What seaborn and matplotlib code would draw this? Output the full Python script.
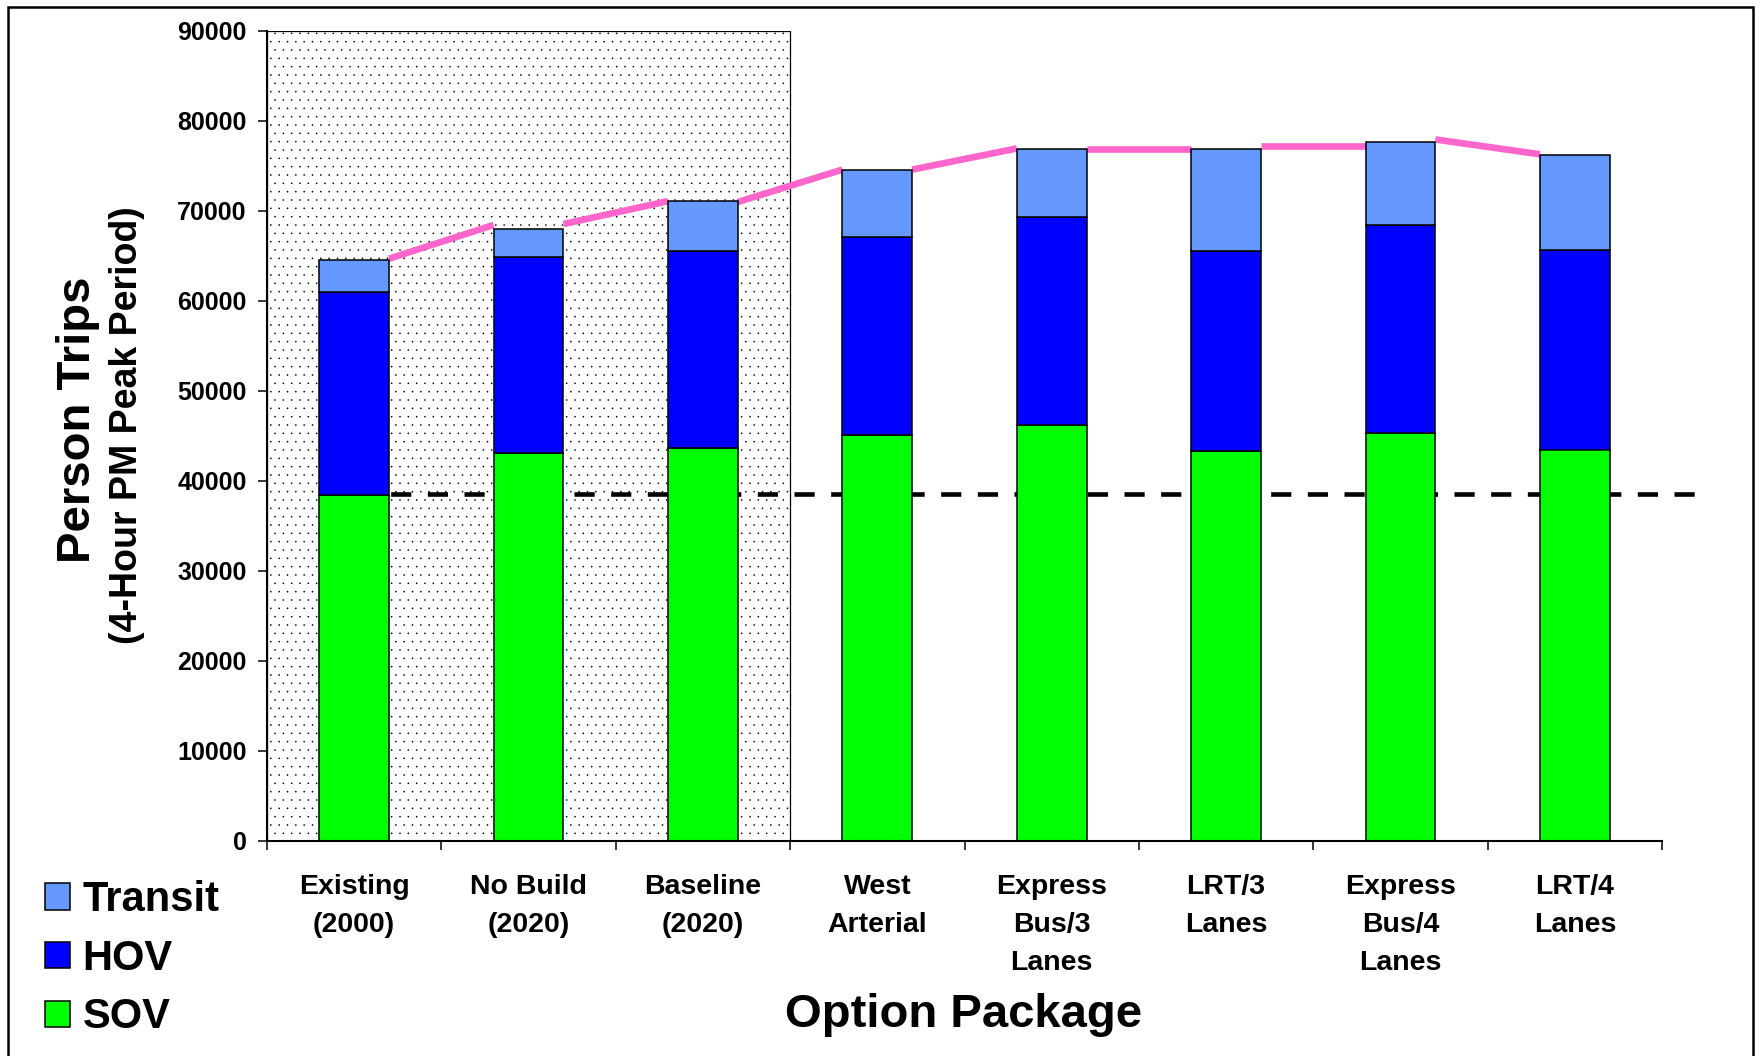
import numpy as np
import pandas as pd
import matplotlib
matplotlib.use("Agg")
import matplotlib.pyplot as plt
from matplotlib.patches import Rectangle, Patch
import seaborn as sns

# ---- data -------------------------------------------------------------
categories = ["Existing\n(2000)", "No Build\n(2020)", "Baseline\n(2020)",
              "West\nArterial", "Express\nBus/3\nLanes", "LRT/3\nLanes",
              "Express\nBus/4\nLanes", "LRT/4\nLanes"]
sov = [38400, 43100, 43700, 45100, 46200, 43300, 45300, 43500]
hov = [22600, 21800, 21800, 22000, 23100, 22200, 23100, 22200]
transit = [3600, 3100, 5600, 7500, 7600, 11400, 9300, 10500]

# total-demand trend, drawn in the gaps between packages (value leaving / arriving)
trend_start = [64700, 68550, 71000, 74600, 76900, 77250, 77950]
trend_end = [68450, 71100, 74600, 76950, 76900, 77250, 76300]

existing_sov_level = 38500          # reference line: existing SOV trips
y_ticks = list(range(0, 90001, 10000))
n_reference = 3                      # existing / no-build / baseline block

series_names = ["Transit", "HOV", "SOV"]
series_colors = {"Transit": "#6699FF", "HOV": "#0000FF", "SOV": "#00FF00"}
trend_color = "#FF66CC"

# ---- style ------------------------------------------------------------
sns.set_theme(style="ticks")
plt.rcParams["font.family"] = ["Liberation Sans", "DejaVu Sans"]
plt.rcParams["font.weight"] = "bold"
plt.rcParams["text.color"] = "black"
plt.rcParams["axes.labelcolor"] = "black"
plt.rcParams["xtick.color"] = "black"
plt.rcParams["ytick.color"] = "black"
plt.rcParams["hatch.linewidth"] = 0.0
plt.rcParams["lines.solid_capstyle"] = "butt"

W, H = 1761, 1056
fig = plt.figure(figsize=(W / 100, H / 100), dpi=100)
ax = fig.add_axes([267 / W, 1 - 841 / H, (1662 - 267) / W, (841 - 31) / H])

df = pd.DataFrame({"package": categories, "SOV": sov, "HOV": hov, "Transit": transit})
df["HOV_top"] = df["SOV"] + df["HOV"]
df["total"] = df["HOV_top"] + df["Transit"]

bar_w = 0.4
bar_kw = dict(width=bar_w, saturation=1, errorbar=None, edgecolor="black",
              linewidth=1.1, zorder=3, ax=ax)

# stacked bars: SOV at the bottom, HOV and Transit on top
sns.barplot(data=df, x="package", y="SOV", color=series_colors["SOV"], **bar_kw)
sns.barplot(data=df, x="package", y="HOV", bottom=df["SOV"].to_numpy(),
            color=series_colors["HOV"], **bar_kw)
sns.barplot(data=df, x="package", y="Transit", bottom=df["HOV_top"].to_numpy(),
            color=series_colors["Transit"], **bar_kw)

n = len(categories)
ax.set_xlim(-0.5, n - 0.5)
ax.set_ylim(0, 90000)

# dotted block behind the existing / no-build / baseline packages
ax.add_patch(Rectangle((-0.5, 0), n_reference, 90000, facecolor="white",
                       edgecolor="black", hatch="..", linewidth=0.9, zorder=0.5))

# existing SOV reference line, running a little past the axis end
ax.plot([0, n - 0.5 + 0.22], [existing_sov_level] * 2, color="black",
        linewidth=3.3, dashes=(4.4, 3.6), zorder=1.5, clip_on=False)

# trend of total demand in the gaps between bars
for i, (a, b) in enumerate(zip(trend_start, trend_end)):
    ax.plot([i + bar_w / 2, i + 1 - bar_w / 2], [a, b], color=trend_color,
            linewidth=4.8, zorder=1.6)

# ---- axes ---------------------------------------------------------------
ax.set_xlabel("")
ax.set_ylabel("")
ax.set_xticks(np.arange(-0.5, n, 1.0))
ax.set_xticklabels([])
ax.set_xticks(np.arange(n), labels=categories, minor=True)
ax.tick_params(axis="x", which="major", bottom=True, direction="out",
               length=6.5, width=1.1, color="black")
ax.tick_params(axis="x", which="minor", bottom=True, length=0, pad=24,
               labelsize=20.5, labelcolor="black")
for t in ax.get_xticklabels(minor=True):
    t.set_linespacing(1.6)
    t.set_fontweight("bold")

ax.set_yticks(y_ticks)
ax.set_yticklabels([str(v) for v in y_ticks])
ax.tick_params(axis="y", left=True, direction="out", length=6.5, width=1.1,
               color="black", pad=8, labelsize=18, labelcolor="black")
for t in ax.get_yticklabels():
    t.set_fontweight("bold")

for side in ("top", "right"):
    ax.spines[side].set_visible(False)
for side in ("left", "bottom"):
    ax.spines[side].set_color("black")
    ax.spines[side].set_linewidth(1.5)
    ax.spines[side].set_zorder(5)
ax.set_facecolor("white")

# ---- titles -------------------------------------------------------------
fig.text(90 / W, 1 - 420 / H, "Person Trips", rotation=90, rotation_mode="anchor",
         ha="center", va="baseline", fontsize=34, fontweight="bold", color="black")
fig.text(137 / W, 1 - 425 / H, "(4-Hour PM Peak Period)", rotation=90,
         rotation_mode="anchor", ha="center", va="baseline", fontsize=27,
         fontweight="bold", color="black")
fig.text(964 / W, 1 - 1027 / H, "Option Package", ha="center", va="baseline",
         fontsize=34, fontweight="bold", color="black")

# ---- legend -------------------------------------------------------------
handles = [Patch(facecolor=series_colors[s], edgecolor="black", linewidth=1.1, label=s)
           for s in series_names]
fig.legend(handles=handles, loc="upper left", bbox_to_anchor=(45 / W, 1 - 880 / H),
           frameon=False, fontsize=30, handlelength=0.6, handleheight=0.6,
           handletextpad=0.3, labelspacing=0.45, borderpad=0, borderaxespad=0,
           labelcolor="black")

# figure border
fig.add_artist(Rectangle((8 / W, -0.02), (1753 - 8) / W, 1 - 7 / H + 0.02,
                         transform=fig.transFigure, fill=False, edgecolor="black",
                         linewidth=1.8, clip_on=False))

fig.savefig("out.png", dpi=100, facecolor="white")
